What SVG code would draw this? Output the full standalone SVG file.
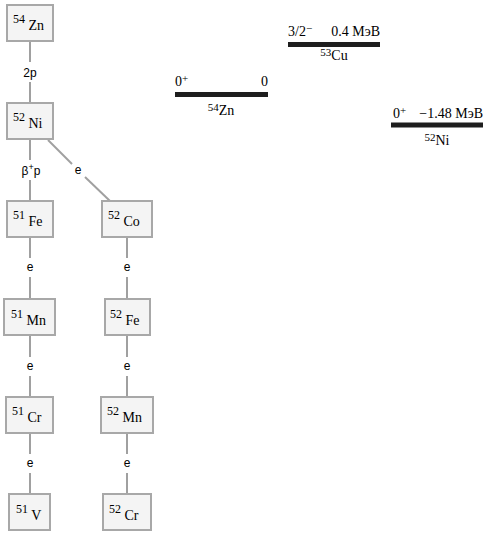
<svg xmlns="http://www.w3.org/2000/svg" width="487" height="541" viewBox="0 0 487 541">
<style>
.box{fill:#f4f4f4;stroke:#a8a8a8;stroke-width:2}
.nl{font-family:"Liberation Serif",serif;font-size:14px;fill:#000}
.sup{font-size:12px}
.edge{stroke:#a0a0a0;stroke-width:2;fill:none}
.el{font-family:"Liberation Sans",sans-serif;font-size:12px;fill:#000;text-anchor:middle}
.bar{stroke:#1e1e1e;stroke-width:5}
.lt{font-family:"Liberation Serif",serif;font-size:14px;fill:#000}
.ls{font-size:11px}
</style>
<rect width="487" height="541" fill="#fff"/>
<g id="connectors">
<line class="edge" x1="30" y1="41" x2="30" y2="62"/>
<line class="edge" x1="30" y1="82" x2="30" y2="103"/>
<line class="edge" x1="30" y1="139" x2="30" y2="160"/>
<line class="edge" x1="30" y1="180" x2="30" y2="201"/>
<line class="edge" x1="48" y1="140" x2="72" y2="164"/>
<line class="edge" x1="85" y1="177" x2="110" y2="201"/>
<line class="edge" x1="30" y1="237" x2="30" y2="258"/>
<line class="edge" x1="30" y1="277" x2="30" y2="299"/>
<line class="edge" x1="127" y1="237" x2="127" y2="258"/>
<line class="edge" x1="127" y1="277" x2="127" y2="299"/>
<line class="edge" x1="30" y1="335" x2="30" y2="357"/>
<line class="edge" x1="30" y1="376" x2="30" y2="397"/>
<line class="edge" x1="127" y1="335" x2="127" y2="357"/>
<line class="edge" x1="127" y1="376" x2="127" y2="397"/>
<line class="edge" x1="30" y1="433" x2="30" y2="454"/>
<line class="edge" x1="30" y1="473" x2="30" y2="494"/>
<line class="edge" x1="127" y1="433" x2="127" y2="454"/>
<line class="edge" x1="127" y1="473" x2="127" y2="494"/>
<text class="el" x="30" y="77">2p</text>
<text class="el" x="31" y="175">β<tspan font-size="9" dy="-5">+</tspan><tspan dy="5">p</tspan></text>
<text class="el" x="78" y="174">e</text>
<text class="el" x="30" y="271">e</text>
<text class="el" x="127" y="271">e</text>
<text class="el" x="30" y="370">e</text>
<text class="el" x="127" y="370">e</text>
<text class="el" x="30" y="467">e</text>
<text class="el" x="127" y="467">e</text>
</g>
<g id="n-zn54"><rect class="box" x="7" y="5" width="46" height="36"/><text class="nl" x="13" y="30"><tspan class="sup" dy="-7">54</tspan><tspan dy="7"> Zn</tspan></text></g>
<g id="n-ni52"><rect class="box" x="7" y="103" width="46" height="36"/><text class="nl" x="13" y="128"><tspan class="sup" dy="-7">52</tspan><tspan dy="7"> Ni</tspan></text></g>
<g id="n-fe51"><rect class="box" x="7" y="201" width="46" height="36"/><text class="nl" x="13" y="226"><tspan class="sup" dy="-7">51</tspan><tspan dy="7"> Fe</tspan></text></g>
<g id="n-co52"><rect class="box" x="102" y="201" width="50" height="36"/><text class="nl" x="108" y="226"><tspan class="sup" dy="-7">52</tspan><tspan dy="7"> Co</tspan></text></g>
<g id="n-mn51"><rect class="box" x="4" y="299" width="51" height="36"/><text class="nl" x="11" y="325"><tspan class="sup" dy="-7">51</tspan><tspan dy="7"> Mn</tspan></text></g>
<g id="n-fe52"><rect class="box" x="105" y="299" width="45" height="36"/><text class="nl" x="110" y="325"><tspan class="sup" dy="-7">52</tspan><tspan dy="7"> Fe</tspan></text></g>
<g id="n-cr51"><rect class="box" x="6" y="397" width="47" height="36"/><text class="nl" x="12" y="422"><tspan class="sup" dy="-7">51</tspan><tspan dy="7"> Cr</tspan></text></g>
<g id="n-mn52"><rect class="box" x="101" y="397" width="52" height="36"/><text class="nl" x="107" y="422"><tspan class="sup" dy="-7">52</tspan><tspan dy="7"> Mn</tspan></text></g>
<g id="n-v51"><rect class="box" x="9" y="494" width="41" height="36"/><text class="nl" x="16" y="520"><tspan class="sup" dy="-7">51</tspan><tspan dy="7"> V</tspan></text></g>
<g id="n-cr52"><rect class="box" x="103" y="494" width="48" height="36"/><text class="nl" x="109" y="520"><tspan class="sup" dy="-7">52</tspan><tspan dy="7"> Cr</tspan></text></g>
<g id="level-cu53">
<line class="bar" x1="288" y1="44.5" x2="380" y2="44.5"/>
<text class="lt" x="288" y="36">3/2<tspan class="ls" dy="-4">−</tspan></text>
<text class="lt" x="380" y="36" text-anchor="end">0.4 МэВ</text>
<text class="lt" x="334" y="60" text-anchor="middle"><tspan class="ls" dy="-4">53</tspan><tspan dy="4">Cu</tspan></text>
</g>
<g id="level-zn54">
<line class="bar" x1="175" y1="94.5" x2="268" y2="94.5"/>
<text class="lt" x="175" y="86">0<tspan class="ls" dy="-4">+</tspan></text>
<text class="lt" x="268" y="86" text-anchor="end">0</text>
<text class="lt" x="221" y="115" text-anchor="middle"><tspan class="ls" dy="-4">54</tspan><tspan dy="4">Zn</tspan></text>
</g>
<g id="level-ni52">
<line class="bar" x1="391" y1="125" x2="483" y2="125"/>
<text class="lt" x="393" y="118">0<tspan class="ls" dy="-4">+</tspan></text>
<text class="lt" x="483" y="118" text-anchor="end">−1.48 МэВ</text>
<text class="lt" x="437" y="145" text-anchor="middle"><tspan class="ls" dy="-4">52</tspan><tspan dy="4">Ni</tspan></text>
</g>
</svg>
